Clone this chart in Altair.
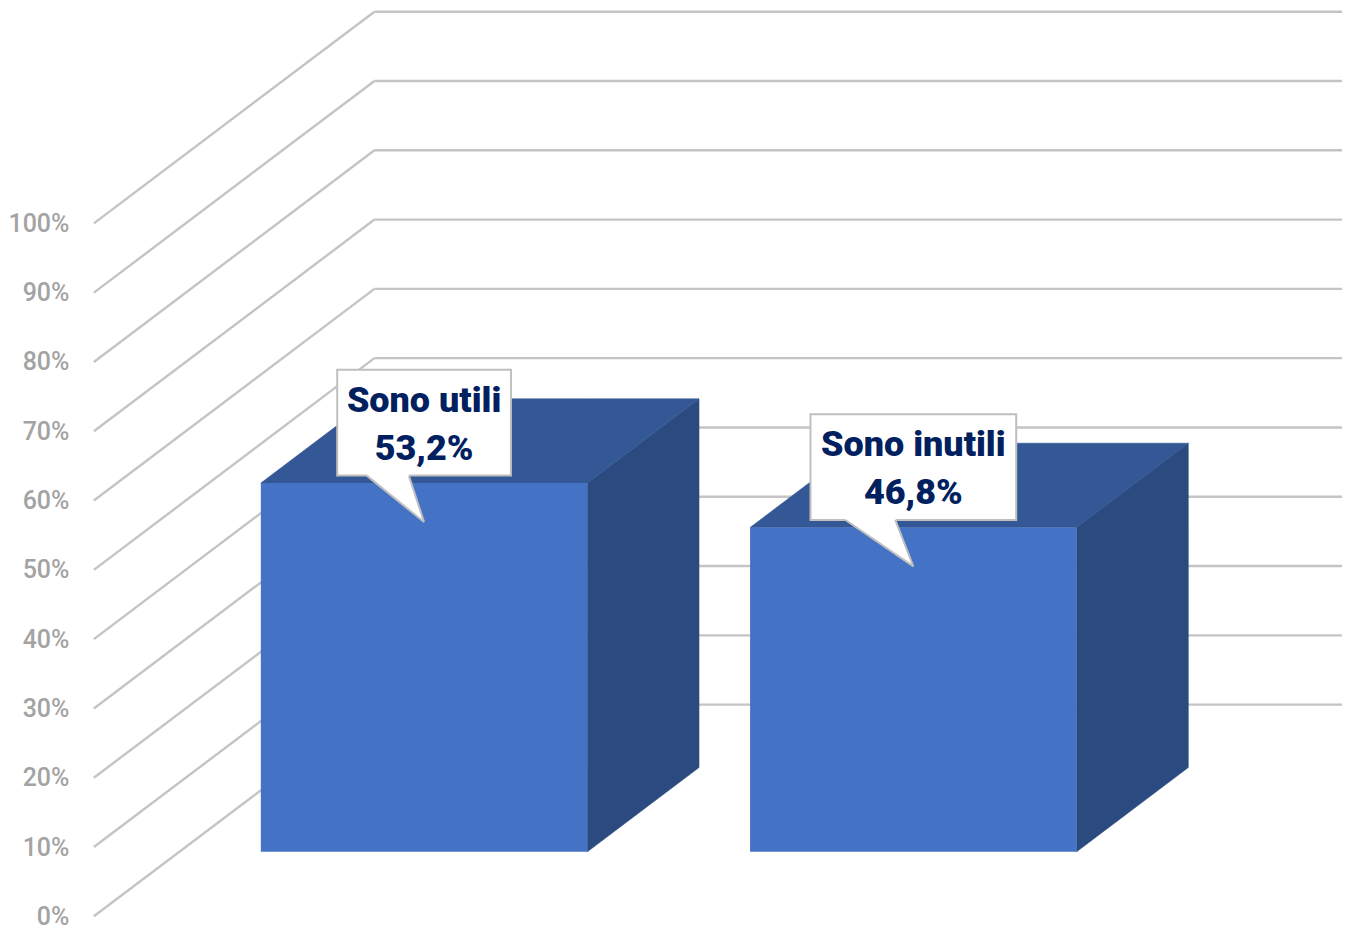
import altair as alt
import pandas as pd

# ---------------- data ----------------
categories = ["Sono utili", "Sono inutili"]
values = [53.2, 46.8]
value_labels = ["53,2%", "46,8%"]
tick_values = [0, 10, 20, 30, 40, 50, 60, 70, 80, 90, 100]

# ---------------- geometry (oblique 3D projection) ----------------
PLOT_W = 1250
PLOT_H = 906
PX_PER_PCT = 6.94                 # pixels per percentage point
VMAX = PLOT_H / PX_PER_PCT        # top of the back wall
DEPTH_V = VMAX - 100              # vertical shift of the back wall (in % units)
DEPTH_X = 281                     # horizontal shift of the back wall
SLOT = 490
BAR_W = 327
FIRST_CENTER = 245
F0 = 0.305                        # depth of bar front face
BD = 0.398                        # bar depth


def px(p):
    return p / PX_PER_PCT


# gridlines
grid_df = pd.DataFrame({"level": tick_values})
grid_df["x0"] = 0.0
grid_df["x1"] = float(DEPTH_X)
grid_df["x2"] = float(PLOT_W)
grid_df["y1"] = grid_df["level"] + DEPTH_V

# bars
front_rows, top_rows, side_rows = [], [], []
box_rows, tail_rows, edge_rows, text_rows = [], [], [], []
base = F0 * DEPTH_V
for i, (cat, v, lab) in enumerate(zip(categories, values, value_labels)):
    xl = FIRST_CENTER - BAR_W / 2 + i * SLOT + F0 * DEPTH_X
    xr = xl + BAR_W
    top = v + base
    bdx = BD * DEPTH_X
    bdv = BD * DEPTH_V
    front_rows.append({"id": cat, "x": xl, "x2": xr, "y": base, "y2": top})
    top_rows += [
        {"id": cat, "x": xl, "y": top, "y2": top},
        {"id": cat, "x": xl + bdx, "y": top, "y2": top + bdv},
        {"id": cat, "x": xr, "y": top, "y2": top + bdv},
        {"id": cat, "x": xr + bdx, "y": top + bdv, "y2": top + bdv},
    ]
    side_rows += [
        {"id": cat, "x": xr, "y": base, "y2": top},
        {"id": cat, "x": xr + bdx, "y": base + bdv, "y2": top + bdv},
    ]
    # callout
    cx = xl + BAR_W / 2
    w = 16 * max(len(cat), len(lab)) + 14
    left = cx - w / 2
    cb = top + px(7.5)
    ct = cb + px(106)
    box_rows.append({"id": cat, "x": left, "x2": left + w, "y": cb, "y2": ct})
    bl = left + 0.17 * w
    br = left + 0.412 * w
    ax = cx
    ay = top - px(39)
    eps = px(2)
    tail_rows += [
        {"id": cat, "x": bl, "y": cb, "y2": cb + eps},
        {"id": cat, "x": br, "y": cb + (ay - cb) * (br - bl) / (ax - bl), "y2": cb + eps},
        {"id": cat, "x": ax, "y": ay, "y2": ay},
    ]
    edge_rows += [
        {"x": bl, "y": cb, "x2": ax, "y2": ay},
        {"x": br, "y": cb, "x2": ax, "y2": ay},
    ]
    text_rows += [
        {"x": cx, "y": cb + px(64), "t": cat},
        {"x": cx, "y": cb + px(15.6), "t": lab},
    ]

front_df = pd.DataFrame(front_rows)
top_df = pd.DataFrame(top_rows)
side_df = pd.DataFrame(side_rows)
box_df = pd.DataFrame(box_rows)
tail_df = pd.DataFrame(tail_rows)
edge_df = pd.DataFrame(edge_rows)
text_df = pd.DataFrame(text_rows)

xs = alt.Scale(domain=[0, PLOT_W], nice=False, zero=False)
ys = alt.Scale(domain=[0, VMAX], nice=False)

Y_AXIS = alt.Axis(
    values=tick_values,
    labelExpr="datum.value + '%'",
    domain=False,
    ticks=False,
    grid=False,
    labelPadding=25,
    labelOffset=0,
    labelFont="Roboto",
    labelFontSize=25,
    labelFontWeight=500,
    labelColor="#a3a3a3",
    title=None,
)


def X(f):
    return alt.X(f, scale=xs, axis=None)


def Y(f):
    return alt.Y(f, scale=ys, axis=Y_AXIS)


GRID_COLOR = "#c4c4c4"

diag = alt.Chart(grid_df).mark_rule(color=GRID_COLOR, strokeWidth=2.4).encode(
    x=X("x0:Q"), y=Y("level:Q"), x2="x1:Q", y2="y1:Q"
)

back = alt.Chart(grid_df).mark_rule(color=GRID_COLOR, strokeWidth=2.4).encode(
    x=X("x1:Q"), x2="x2:Q", y=Y("y1:Q")
)

side = alt.Chart(side_df).mark_area(fill="#2b4a7f", stroke="#2b4a7f", strokeWidth=0.6).encode(
    x=X("x:Q"), y=Y("y:Q"), y2="y2:Q", detail="id:N"
)

topf = alt.Chart(top_df).mark_area(fill="#345895", stroke="#345895", strokeWidth=0.6).encode(
    x=X("x:Q"), y=Y("y:Q"), y2="y2:Q", detail="id:N"
)

front = alt.Chart(front_df).mark_rect(color="#4472c4").encode(
    x=X("x:Q"), x2="x2:Q", y=Y("y:Q"), y2="y2:Q"
)

box = alt.Chart(box_df).mark_rect(fill="white", stroke="#bfbfbf", strokeWidth=2).encode(
    x=X("x:Q"), x2="x2:Q", y=Y("y:Q"), y2="y2:Q"
)

tail = alt.Chart(tail_df).mark_area(fill="white").encode(
    x=X("x:Q"), y=Y("y:Q"), y2="y2:Q", detail="id:N"
)

edges = alt.Chart(edge_df).mark_rule(color="#bfbfbf", strokeWidth=2).encode(
    x=X("x:Q"), y=Y("y:Q"), x2="x2:Q", y2="y2:Q"
)

texts = alt.Chart(text_df).mark_text(
    font="Roboto",
    fontWeight=900,
    fontSize=36,
    color="#002060",
    align="center",
    baseline="alphabetic",
).encode(x=X("x:Q"), y=Y("y:Q"), text="t:N")

chart = (
    alt.layer(diag, back, side, topf, front, box, tail, edges, texts)
    .properties(
        width=PLOT_W,
        height=PLOT_H,
        padding={"left": 86, "top": 3, "right": 0, "bottom": 14},
        autosize=alt.AutoSizeParams(type="none"),
        background="white",
    )
    .configure_view(stroke=None)
)

chart.save("out.html", embed_options={"renderer": "svg", "actions": False})
